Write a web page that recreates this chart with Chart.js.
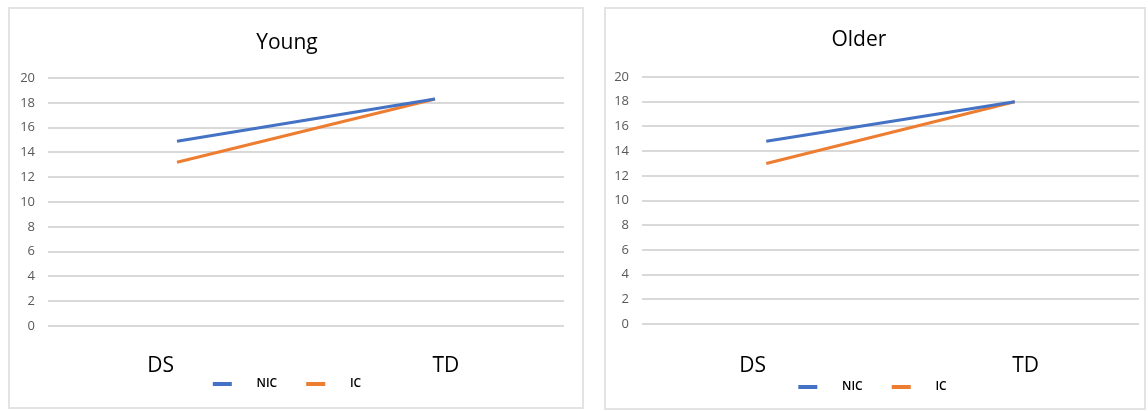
<!DOCTYPE html>
<html>
<head>
<meta charset="utf-8">
<script src="https://cdn.jsdelivr.net/npm/chart.js@4/dist/chart.umd.min.js"></script>
<style>
  html, body { margin: 0; padding: 0; background: #ffffff; }
  body { width: 1148px; height: 411px; position: relative; overflow: hidden; }
  .panel { position: absolute; border: 2px solid #e3e3e3; box-sizing: border-box; background: #fff; }
  .holder { position: absolute; }
</style>
</head>
<body>
<div class="panel" style="left:8px; top:7px; width:576px; height:402px;"></div>
<div class="panel" style="left:604px; top:7px; width:542px; height:403px;"></div>
<div class="holder" style="left:10px; top:9px; width:554px; height:391px;"><canvas id="young"></canvas></div>
<div class="holder" style="left:606px; top:9px; width:533px; height:394px;"><canvas id="older"></canvas></div>
<script>
// Groups on the x axis
const categories = ['DS', 'TD'];
// Y axis tick values
const yTicks = [0, 2, 4, 6, 8, 10, 12, 14, 16, 18, 20];
// Series labels
const seriesNames = ['NIC', 'IC'];

// Young group
const youngNIC = [14.9, 18.3];
const youngIC = [13.2, 18.3];

// Older group
const olderNIC = [14.8, 18.0];
const olderIC = [13.0, 18.0];

const BLUE = '#4472C4';
const ORANGE = '#ED7D31';
const GRID = '#d9d9d9';

function makeChart(id, title, nic, ic, lay) {
  const ctx = document.getElementById(id);
  return new Chart(ctx, {
    type: 'line',
    data: {
      labels: categories,
      datasets: [
        { label: seriesNames[0], data: nic, borderColor: BLUE, backgroundColor: BLUE,
          borderWidth: 3, pointRadius: 0, pointHoverRadius: 0, tension: 0 },
        { label: seriesNames[1], data: ic, borderColor: ORANGE, backgroundColor: ORANGE,
          borderWidth: 3, pointRadius: 0, pointHoverRadius: 0, tension: 0 }
      ]
    },
    options: {
      responsive: true,
      maintainAspectRatio: false,
      animation: false,
      layout: { padding: 0 },
      plugins: {
        tooltip: { enabled: false },
        title: {
          display: true,
          text: title,
          color: '#000000',
          font: { family: 'Open Sans', size: 21, weight: 'normal', lineHeight: 1.2 },
          padding: { top: lay.titleTop, bottom: lay.titleBottom }
        },
        legend: {
          display: true,
          position: 'bottom',
          labels: {
            boxWidth: 19,
            boxHeight: 4,
            padding: 1,
            color: '#262626',
            font: { family: 'Open Sans', size: 12, weight: '600' },
            generateLabels(chart) {
              // extra spacing between swatch and text, and between entries
              return chart.data.datasets.map((ds, i) => ({
                text: '      ' + ds.label + (i === 0 ? '         ' : ''),
                fillStyle: ds.borderColor,
                strokeStyle: ds.borderColor,
                lineWidth: 0,
                hidden: false,
                datasetIndex: i
              }));
            }
          }
        }
      },
      scales: {
        x: {
          offset: true,
          grid: { display: false, drawTicks: false },
          border: { display: false },
          ticks: {
            padding: lay.xPad,
            color: '#000000',
            font: { family: 'Open Sans', size: 21, lineHeight: 1.0 },
            maxRotation: 0,
            // nudge the first label left and the second right of the category centre
            callback(value, index) {
              const name = categories[index];
              return index === 0 ? name + ' '.repeat(lay.leftGap) : ' '.repeat(lay.rightGap) + name;
            }
          },
          afterFit(scale) { scale.height = lay.xHeight; }
        },
        y: {
          min: 0,
          max: 20,
          afterBuildTicks(scale) { scale.ticks = yTicks.map(v => ({ value: v })); },
          grid: { color: GRID, lineWidth: 2, drawTicks: false },
          border: { display: false },
          ticks: {
            padding: 13,
            color: '#595959',
            font: { family: 'Open Sans', size: 13 }
          },
          afterFit(scale) { scale.width = lay.yWidth; }
        }
      }
    }
  });
}

makeChart('young', 'Young', youngNIC, youngIC,
  { titleTop: 21.5, titleBottom: 22.3, xPad: 30, xHeight: 51, yWidth: 38, leftGap: 6, rightGap: 4 });
makeChart('older', 'Older     ', olderNIC, olderIC,
  { titleTop: 18.4, titleBottom: 24.4, xPad: 32, xHeight: 56, yWidth: 36, leftGap: 5, rightGap: 4 });
</script>
</body>
</html>
